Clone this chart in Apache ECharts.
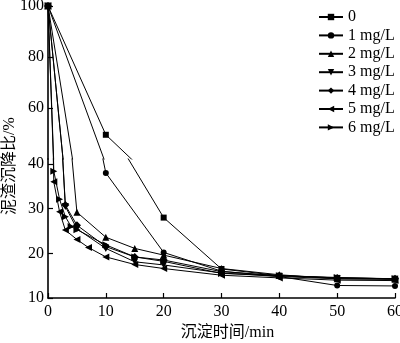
<!DOCTYPE html>
<html>
<head>
<meta charset="utf-8">
<script src="https://cdn.jsdelivr.net/npm/echarts@6/dist/echarts.min.js"></script>
<style>html,body{margin:0;padding:0;background:#fff;}#c{width:400px;height:343px;}</style>
</head>
<body>
<div id="c"></div>
<script>
// Series names (legend)
const names = ['0', '1 mg/L', '2 mg/L', '3 mg/L', '4 mg/L', '5 mg/L', '6 mg/L'];
// Time (min) and settling ratio (%) for each dosage
const t0 = [0, 10, 20, 30, 40, 50, 60];
const v0 = [100, 49.5, 28, 16.5, 15, 14.5, 14.3];
const t1 = [0, 10, 20, 30, 40, 50, 60];
const v1 = [100, 38, 20.2, 16, 14.8, 12.8, 12.7];
const t2 = [0, 5, 10, 15, 20, 30, 40, 50, 60];
const v2 = [100, 29.2, 23.6, 21.1, 19.6, 16.6, 15.2, 14.3, 14.2];
const t3 = [0, 3, 5, 10, 15, 20, 30, 40, 50, 60];
const v3 = [100, 30.5, 25.5, 21.1, 18.1, 17.4, 15.6, 14.8, 14.3, 14.2];
const t4 = [0, 3, 5, 10, 15, 20, 30, 40, 50, 60];
const v4 = [100, 30.8, 26.3, 21.5, 19.2, 18.5, 15.9, 15, 14.5, 14.3];
const t5 = [0, 1, 2, 3, 5, 7, 10, 15, 20, 30, 40, 50, 60];
const v5 = [100, 36, 29.3, 25.2, 23.1, 21.3, 19.2, 17.5, 16.6, 15.1, 14.5, 14, 13.9];
const t6 = [0, 1, 2, 3, 4, 5, 10, 15, 20, 30, 40, 50, 60];
const v6 = [100, 38.4, 32.1, 28.2, 26, 25.3, 21.9, 19.2, 18.2, 15.5, 15, 14.6, 14.3];
// Axis ticks
const xTicks = [0, 10, 20, 30, 40, 50, 60];
const yLowTicks = [10, 20, 30, 40];
const yHighTicks = [60, 80, 100];

const times = [t0, t1, t2, t3, t4, t5, t6];
const vals = [v0, v1, v2, v3, v4, v5, v6];
const symbols = ['rect', 'circle', 'triangle', 'triangle', 'diamond', 'triangle', 'triangle'];
const rotates = [0, 0, 0, 180, 0, 90, -90];
const sizes = [6, 6, 7, 7, 8, 7, 7];

const FONT = '"Liberation Serif", "Noto Sans CJK SC", serif';
const BREAK = 40;

const series = [];
for (let gi = 0; gi < 2; gi++) {
  names.forEach((n, i) => {
    const data = times[i].map((t, k) => [t, vals[i][k]]);
    series.push({
      name: n,
      type: 'line',
      xAxisIndex: gi,
      yAxisIndex: gi,
      data: data,
      clip: true,
      symbol: symbols[i],
      symbolRotate: rotates[i],
      symbolSize: gi === 0
        ? (v) => (v[1] >= BREAK ? sizes[i] : 0)
        : (v) => (v[1] <= BREAK ? sizes[i] : 0),
      showAllSymbol: true,
      lineStyle: { color: '#000', width: 1 },
      itemStyle: { color: '#000' },
      emphasis: { disabled: true },
      animation: false
    });
  });
}

const axisLine = { show: true, lineStyle: { color: '#000', width: 1.6 } };
const axisTick = { show: true, inside: true, length: 5, lineStyle: { color: '#000', width: 1.2 } };
const labelStyle = { color: '#000', fontFamily: FONT, fontSize: 16 };

const chart = echarts.init(document.getElementById('c'), null, { renderer: 'canvas' });
chart.setOption({
  backgroundColor: '#fff',
  animation: false,
  textStyle: { fontFamily: FONT },
  grid: [
    { left: 48, right: 5, top: 6, height: 153, outerBoundsMode: 'none', containLabel: false },
    { left: 48, right: 5, top: 159, height: 139, outerBoundsMode: 'none', containLabel: false }
  ],
  legend: {
    data: names,
    orient: 'vertical',
    left: 318,
    top: 9,
    padding: 0,
    itemWidth: 24,
    itemHeight: 8,
    itemGap: 2.4,
    selectedMode: false,
    textStyle: { color: '#000', fontFamily: FONT, fontSize: 16, lineHeight: 16 }
  },
  xAxis: [
    { type: 'value', gridIndex: 0, min: 0, max: 60, interval: 10, show: false },
    {
      type: 'value', gridIndex: 1, min: 0, max: 60, interval: 10,
      axisLine: axisLine, axisTick: axisTick, splitLine: { show: false },
      axisLabel: Object.assign({ margin: 6, customValues: xTicks }, labelStyle),
      name: '沉淀时间/min', nameLocation: 'middle', nameGap: 27,
      nameTextStyle: { color: '#000', fontFamily: FONT, fontSize: 16, padding: [0, 0, 0, 12] }
    }
  ],
  yAxis: [
    {
      type: 'value', gridIndex: 0, min: 40, max: 100,
      axisLine: axisLine,
      axisTick: Object.assign({}, axisTick, { customValues: yHighTicks }),
      splitLine: { show: false },
      axisLabel: Object.assign({ margin: 4, customValues: yHighTicks }, labelStyle)
    },
    {
      type: 'value', gridIndex: 1, min: 10, max: 41.12,
      axisLine: axisLine,
      axisTick: Object.assign({}, axisTick, { customValues: yLowTicks }),
      splitLine: { show: false },
      axisLabel: Object.assign({ margin: 4, customValues: yLowTicks }, labelStyle)
    }
  ],
  graphic: [
    {
      type: 'text', x: 10, y: 166, rotation: Math.PI / 2,
      style: { text: '泥渣沉降比/%', fill: '#000', font: '16px ' + FONT, align: 'center', verticalAlign: 'middle' }
    }
  ],
  series: series
});
</script>
</body>
</html>
